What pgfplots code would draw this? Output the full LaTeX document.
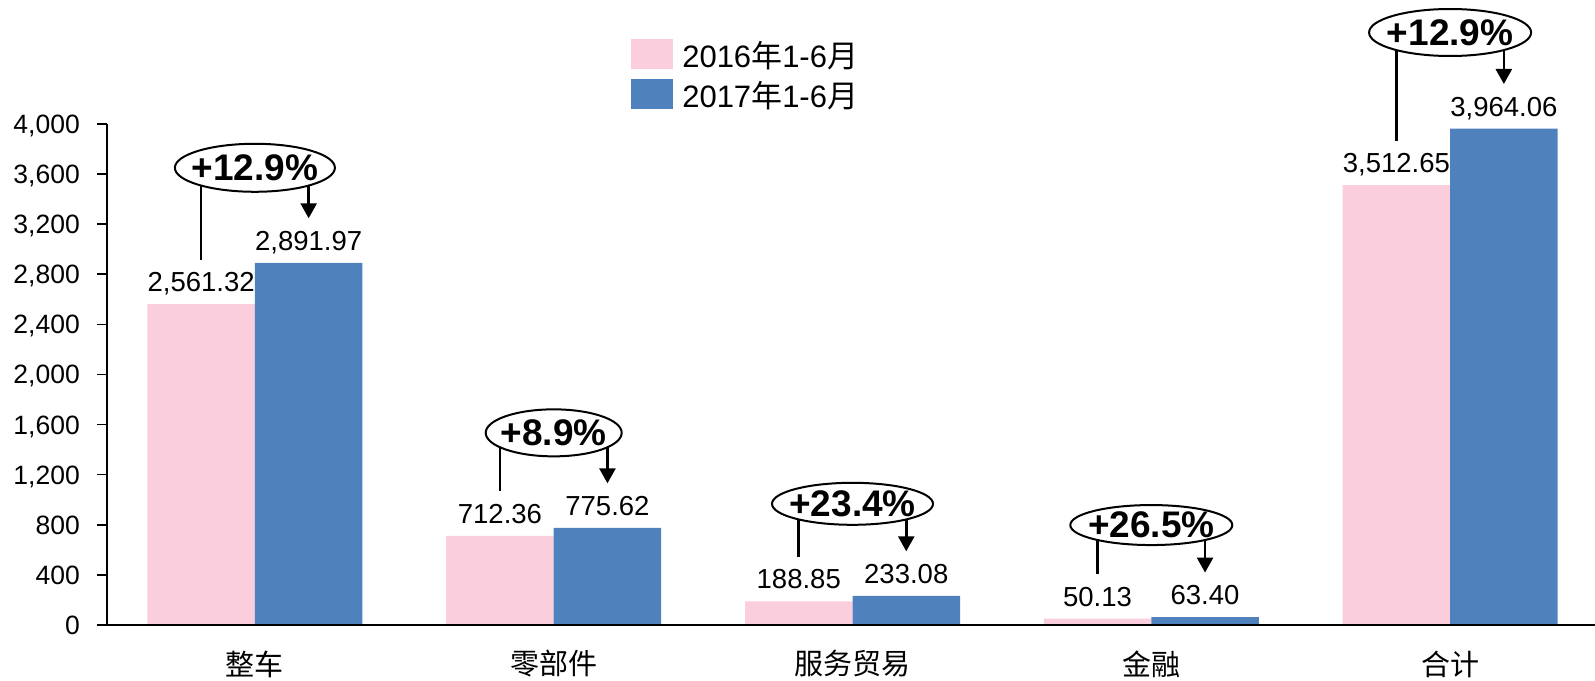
\documentclass[border=0pt]{standalone}
\usepackage{pgfplots}
\pgfplotsset{compat=1.18}
\usepackage{fontspec}
\setmainfont{Liberation Sans}
\newfontfamily\cjk{Noto Sans CJK SC}
\usetikzlibrary{arrows.meta}
\definecolor{pinkc}{RGB}{250,206,220}
\definecolor{bluec}{RGB}{79,129,189}
\newcommand{\annot}[7]{%
  \draw[line width=2.6pt] ([xshift=-53.75pt,yshift=44.5pt]axis cs:#1,#2) -- ([xshift=-53.75pt,yshift=#7]axis cs:#1,#3);
  \draw[line width=2.6pt,-{Triangle[width=16pt,length=15pt]}] ([xshift=53.75pt,yshift=#7]axis cs:#1,#3) -- ([xshift=53.75pt,yshift=44.5pt]axis cs:#1,#3);
  \draw[line width=2pt, fill=white] ([yshift=#7]axis cs:#1,#3) ellipse [x radius=#5, y radius=#6];
  \node[font=\bfseries\fontsize{37}{37}\selectfont, inner sep=0pt] at ([yshift=#7]axis cs:#1,#3) {#4};
}
\begin{document}
\begin{tikzpicture}
\path[use as bounding box] (0,0) rectangle (1595pt,680pt);
\begin{axis}[
  at={(107pt,55pt)}, anchor=south west,
  scale only axis, width=1488pt, height=501pt,
  xmin=-0.495, xmax=4.485, ymin=0, ymax=4000,
  ybar=0pt, bar width=107.5pt,
  clip=false, axis on top,
  axis x line=bottom, axis y line=left,
  axis line style={line width=1.6pt, -},
  tick align=outside, major tick length=10pt,
  ytick={0,400,...,4000},
  y tick style={line width=1.6pt, black},
  x tick style={draw=none},
  xtick={0,1,2,3,4},
  xticklabels={{\cjk 整车},{\cjk 零部件},{\cjk 服务贸易},{\cjk 金融},{\cjk 合计}},
  xticklabel style={font=\fontsize{29}{29}\selectfont, anchor=center, inner sep=0pt, yshift=-29pt},
  yticklabel style={font=\fontsize{26.5}{26.5}\selectfont, anchor=base east, inner sep=0pt, xshift=-17pt, yshift=-9.5pt},
  scaled y ticks=false,
  /pgf/number format/.cd, 1000 sep={,}, assume math mode=true, /pgfplots/.cd,
  nodes near coords={\pgfmathprintnumber[fixed,fixed zerofill,precision=2,1000 sep={,},assume math mode=true]{\pgfplotspointmeta}},
  every node near coord/.append style={font=\fontsize{27.5}{27.5}\selectfont, anchor=base, inner sep=0pt, yshift=12.5pt, text=black},
  legend cell align=left,
  legend style={at={(0.3522,1.1697)}, anchor=north west, draw=none, fill=none, inner sep=0pt,
    font=\fontsize{31}{31}\selectfont, row sep=10pt, column sep=9pt, nodes={inner sep=0pt}},
  legend image code/.code={\fill[#1,draw=none] (0pt,-13.7pt) rectangle (42pt,16.3pt);},
]
\addplot[fill=pinkc, draw=none] coordinates {(0,2561.32) (1,712.36) (2,188.85) (3,50.13) (4,3512.65)};
\addlegendentry{2016{\cjk 年}1-6{\cjk 月}}
\addplot[fill=bluec, draw=none] coordinates {(0,2891.97) (1,775.62) (2,233.08) (3,63.40) (4,3964.06)};
\addlegendentry{2017{\cjk 年}1-6{\cjk 月}}
\draw[line width=1.6pt] ([xshift=-10pt]rel axis cs:0,0) -- (rel axis cs:0,0);
\annot{0}{2561.32}{2891.97}{+12.9\%}{80pt}{24pt}{95pt}
\annot{1}{712.36}{775.62}{+8.9\%}{68pt}{23.5pt}{95pt}
\annot{2}{188.85}{233.08}{+23.4\%}{80.5pt}{21pt}{92pt}
\annot{3}{50.13}{63.40}{+26.5\%}{81pt}{20pt}{92pt}
\annot{4}{3512.65}{3964.06}{+12.9\%}{81pt}{23.5pt}{96pt}
\end{axis}
\end{tikzpicture}
\end{document}
